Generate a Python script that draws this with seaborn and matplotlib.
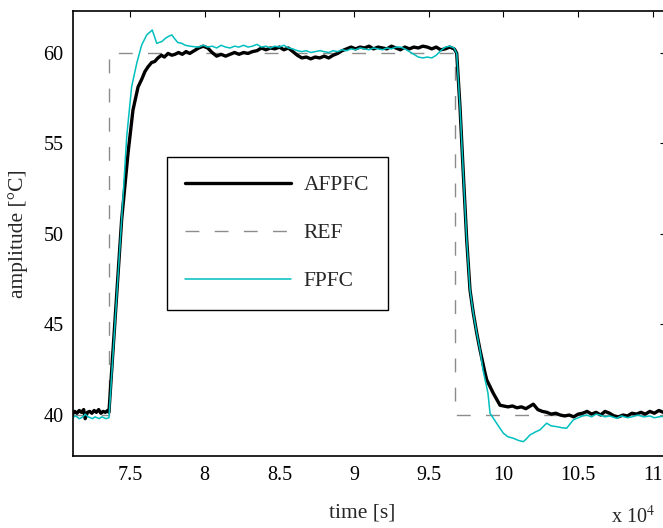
import numpy as np
import pandas as pd
import matplotlib
matplotlib.use("Agg")
import matplotlib.pyplot as plt
import seaborn as sns
from matplotlib.ticker import FixedLocator, FixedFormatter

# ---------------- data ----------------
ref_time = [71150, 73590, 73590, 96750, 96750, 111000]
ref_vals = [40, 40, 60, 60, 40, 40]

afpfc_time = [71150, 71300, 71450, 71600, 71750, 71900, 72000, 72150, 72300, 72450,
              72600, 72750, 72900, 73050, 73200, 73350, 73500, 73590,
              74440, 74870, 75200, 75540, 75800, 76000, 76200, 76450, 76650, 76870,
              77100, 77300, 77550, 77800, 78010, 78250, 78500, 78750, 79000, 79300,
              79600, 79900, 80200, 80500, 80800, 81100, 81400, 81700, 82000, 82300,
              82600, 82900, 83200, 83500, 83800, 84100, 84400, 84700, 85000, 85300,
              85600, 85900, 86200, 86500, 86800, 87100, 87400, 87700, 88000, 88300,
              88600, 88900, 89200, 89500, 89800, 90100, 90400, 90700, 91000, 91300,
              91600, 91900, 92200, 92500, 92800, 93100, 93400, 93700, 94000, 94300,
              94600, 94900, 95200, 95500, 95800, 96100, 96400, 96700,
              96750, 96870, 97090, 97310, 97540, 97760, 97980, 98210, 98430, 98760,
              98880, 99320, 99770,
              100000, 100300, 100600, 100900, 101200, 101500, 102000, 102300, 102600,
              102900, 103200, 103500, 103800, 104100, 104400, 104700, 105000, 105300,
              105600, 105900, 106200, 106500, 106800, 107100, 107400, 107700, 108000,
              108300, 108600, 108900, 109200, 109500, 109800, 110100, 110400, 110700,
              111000]
afpfc_vals = [40.05, 40.2, 40.1, 40.25, 40.15, 40.3, 39.8, 40.15, 40.2, 40.1,
              40.25, 40.15, 40.3, 40.1, 40.2, 40.15, 40.25, 40.15,
              50.76, 54.46, 56.83, 58.10, 58.55, 58.95, 59.2, 59.45, 59.5, 59.7,
              59.85, 59.75, 59.95, 59.85, 59.9, 60.0, 59.9, 60.05, 59.95, 60.1,
              60.25, 60.35, 60.25, 60.0, 59.8, 59.9, 59.8, 59.9, 60.0, 59.9,
              60.0, 59.95, 60.05, 60.1, 60.25, 60.15, 60.25, 60.2, 60.3, 60.15,
              60.25, 60.05, 59.85, 59.7, 59.75, 59.65, 59.75, 59.7, 59.8, 59.7,
              59.85, 59.95, 60.1, 60.2, 60.3, 60.2, 60.3, 60.25, 60.35, 60.2,
              60.3, 60.25, 60.2, 60.35, 60.25, 60.15, 60.3, 60.2, 60.3, 60.25,
              60.35, 60.3, 60.2, 60.3, 60.15, 60.2, 60.3, 60.2,
              60.14, 59.96, 57.01, 53.35, 49.66, 46.90, 45.63, 44.53, 43.59, 42.34,
              41.94, 41.20, 40.54,
              40.5, 40.45, 40.5, 40.4, 40.45, 40.35, 40.6, 40.3, 40.2,
              40.15, 40.05, 40.1, 40.0, 39.95, 40.0, 39.9, 40.05, 40.1,
              40.2, 40.05, 40.15, 40.0, 40.2, 40.1, 39.95, 39.9, 40.0,
              39.95, 40.1, 40.05, 40.15, 40.05, 40.2, 40.1, 40.25, 40.15,
              40.2]

fpfc_time = [71150, 71300, 71450, 71600, 71750, 71900, 72000, 72200, 72350, 72500,
             72650, 72800, 72950, 73100, 73250, 73400, 73590,
             74440, 74780, 75110, 75450, 75780, 76120, 76490, 76790, 77120, 77400,
             77600, 77800, 78000, 78200, 78460, 78700, 79000, 79300,
             79600, 79900, 80200, 80500, 80800, 81100, 81400, 81700, 82000, 82300,
             82600, 82900, 83200, 83500, 83800, 84100, 84400, 84700, 85000, 85300,
             85600, 85900, 86200, 86500, 86800, 87100, 87400, 87700, 88000, 88300,
             88600, 88900, 89200, 89500, 89800, 90100, 90400, 90700, 91000, 91300,
             91600, 91900, 92200, 92500, 92800, 93100, 93400, 93700, 94000, 94300,
             94600, 94900, 95200, 95500, 95800, 96100, 96400, 96700,
             96750, 96870, 97090, 97310, 97540, 97760, 97980, 98210, 98430, 98630,
             98960, 99100, 99540, 99990, 100300, 100660, 101000, 101330, 101550,
             101770, 102100, 102440, 102650, 102890, 103200, 103560, 103900, 104230,
             104450, 104670, 105000, 105300, 105570, 105900, 106200, 106460, 106800,
             107100, 107580, 107900, 108300, 108650, 109000, 109400, 109800, 110100,
             110470, 111000]
fpfc_vals = [39.8, 39.95, 39.9, 39.8, 39.85, 39.95, 40.05, 39.9, 39.85, 39.8,
             39.9, 39.85, 39.8, 39.9, 39.85, 39.8, 39.85,
             50.76, 55.36, 58.11, 59.40, 60.41, 60.97, 61.24, 60.51, 60.60, 60.8,
             60.9, 60.97, 60.75, 60.55, 60.51, 60.4, 60.35, 60.32,
             60.3, 60.4, 60.3, 60.35, 60.25, 60.4, 60.3, 60.25, 60.35, 60.3,
             60.4, 60.3, 60.35, 60.45, 60.3, 60.35, 60.25, 60.35, 60.3, 60.4,
             60.25, 60.2, 60.1, 60.05, 60.1, 60.0, 60.05, 60.1, 60.05, 60.0,
             60.1, 60.05, 60.15, 60.1, 60.2, 60.15, 60.25, 60.2, 60.15, 60.25,
             60.2, 60.15, 60.25, 60.2, 60.3, 60.3, 60.2, 60.05, 59.9, 59.75,
             59.7, 59.75, 59.7, 59.85, 60.1, 60.3, 60.35, 60.25,
             60.14, 59.96, 57.01, 53.35, 49.66, 46.90, 45.63, 44.53, 43.59, 42.49,
             41.22, 40.1, 39.55, 39.0, 38.8, 38.72, 38.6, 38.53, 38.7,
             38.9, 39.05, 39.18, 39.35, 39.55, 39.4, 39.36, 39.3, 39.27,
             39.5, 39.73, 39.85, 39.95, 40.0, 39.9, 40.05, 40.0, 39.9,
             39.95, 39.82, 39.95, 39.85, 39.91, 40.0, 39.9, 39.95, 39.85,
             39.91, 39.95]

x_ticks = [75000, 80000, 85000, 90000, 95000, 100000, 105000, 110000]
x_tick_labels = ["7.5", "8", "8.5", "9", "9.5", "10", "10.5", "11"]
y_ticks = [40, 45, 50, 55, 60]
y_tick_labels = ["40", "45", "50", "55", "60"]

# ---------------- style ----------------
sns.set_style("white")
plt.rcParams["font.family"] = ["Liberation Serif", "DejaVu Serif"]
plt.rcParams["mathtext.fontset"] = "stix"

W, H = 663, 528
fig = plt.figure(figsize=(W / 100, H / 100), dpi=100)
ax = fig.add_axes([73 / W, (H - 456) / H, (666 - 73) / W, (456 - 11) / H])

ref_df = pd.DataFrame({"t": ref_time, "v": ref_vals})
a_df = pd.DataFrame({"t": afpfc_time, "v": afpfc_vals})
f_df = pd.DataFrame({"t": fpfc_time, "v": fpfc_vals})

sns.lineplot(data=ref_df, x="t", y="v", ax=ax, sort=False, estimator=None,
             color="0.55", lw=1.0, dashes=False, label="REF")
ax.lines[-1].set_dashes([10, 11])
sns.lineplot(data=a_df, x="t", y="v", ax=ax, sort=False, estimator=None,
             color="black", lw=2.4, label="AFPFC")
sns.lineplot(data=f_df, x="t", y="v", ax=ax, sort=False, estimator=None,
             color="#00BFBF", lw=1.1, label="FPFC")

ax.set_xlim(71185, 110880)
ax.set_ylim(37.74, 62.29)

ax.xaxis.set_major_locator(FixedLocator(x_ticks))
ax.xaxis.set_major_formatter(FixedFormatter(x_tick_labels))
ax.yaxis.set_major_locator(FixedLocator(y_ticks))
ax.yaxis.set_major_formatter(FixedFormatter(y_tick_labels))
ax.tick_params(direction="in", length=4.5, width=0.8, top=True, right=True,
               labelsize=14.5, colors="black", pad=7)
for s in ax.spines.values():
    s.set_visible(True)
    s.set_color("black")
    s.set_linewidth(1.2)

ax.set_xlabel("time [s]", fontsize=15.5)
ax.set_ylabel("amplitude [°C]", fontsize=15.5)
ax.xaxis.set_label_coords((362 - 73) / (666 - 73), -(513 - 456) / (456 - 11))
ax.yaxis.set_label_coords(-(73 - 18) / (666 - 73), 0.5)
ax.xaxis.label.set_va("center")
ax.yaxis.label.set_va("center")

fig.text(655 / W, 5 / H, r"x 10$^{4}$", fontsize=14.5, ha="right", va="baseline")

handles, labels = ax.get_legend_handles_labels()
order = [labels.index(n) for n in ["AFPFC", "REF", "FPFC"]]
leg = ax.legend([handles[i] for i in order], [labels[i] for i in order],
                loc="upper left", bbox_to_anchor=(167 / W, 1 - 157 / H),
                bbox_transform=fig.transFigure, borderaxespad=0,
                fontsize=15.5, handlelength=4.9, handletextpad=0.6,
                labelspacing=1.3, borderpad=0.85, fancybox=False, framealpha=1,
                edgecolor="black")
leg.get_frame().set_linewidth(1.0)

fig.savefig("out.png", dpi=100)
